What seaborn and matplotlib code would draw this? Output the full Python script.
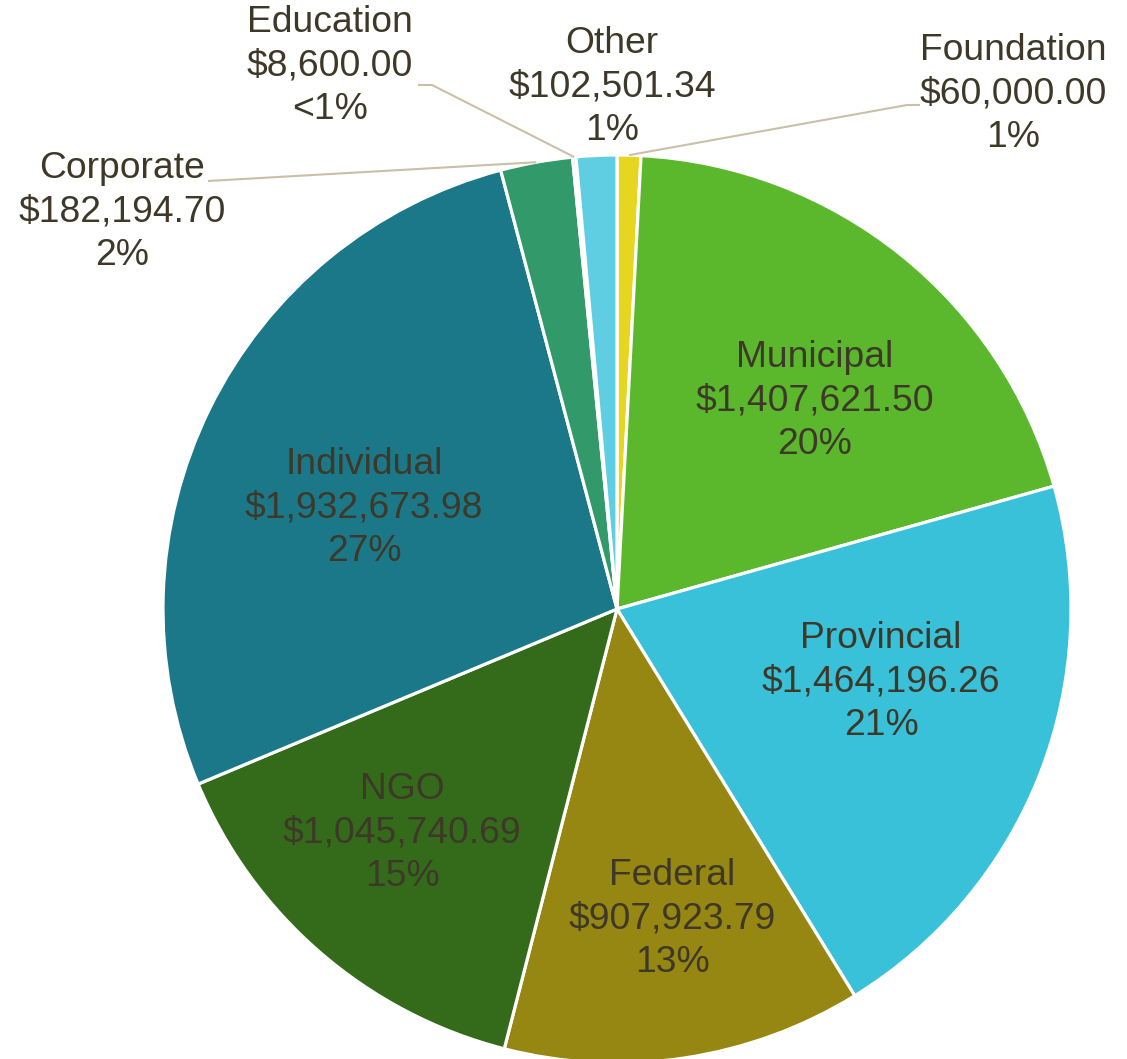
import matplotlib
matplotlib.use("Agg")
import matplotlib.pyplot as plt
import seaborn as sns
import numpy as np

sns.set_style("white")
plt.rcParams['font.family'] = ['Liberation Sans', 'DejaVu Sans']

# ---- data (clockwise from 12 o'clock) ----
categories = ["Foundation", "Municipal", "Provincial", "Federal", "NGO",
              "Individual", "Corporate", "Education", "Other"]
amounts = [60000.00, 1407621.50, 1464196.26, 907923.79, 1045740.69,
           1932673.98, 182194.70, 8600.00, 102501.34]
pct_labels = ["1%", "20%", "21%", "13%", "15%", "27%", "2%", "<1%", "1%"]
colors = ["#E6D620", "#5BB82D", "#38C1D9", "#958711", "#336B1A",
          "#1B7888", "#31996A", "#9FC9B8", "#5FCDE2"]

# ---- layout (pixel coordinates, y measured from top) ----
W, H = 1127, 1059
CX, CY, R = 617, 609, 454
label_pos = {
    "Municipal": (815, 401), "Provincial": (881, 682), "Federal": (672, 919),
    "NGO": (402, 833), "Individual": (364, 508),
    "Corporate": (122, 212), "Education": (330, 66), "Other": (612, 87),
    "Foundation": (1013, 94),
}
# leader lines: start point near the text, optional elbow
leaders = {
    "Corporate": [(208, 181)],
    "Education": [(418, 85), (432, 85)],
    "Foundation": [(920, 105), (907, 105)],
}

text_color = "#3E3829"
leader_color = "#C9C0A8"
FS = 26.8

fig = plt.figure(figsize=(W / 100, H / 100), dpi=100)
ax = fig.add_axes([0, 0, 1, 1])

def fy(y):
    return H - y

wedges, _ = ax.pie(amounts, colors=colors, startangle=90, counterclock=False,
                   center=(CX, fy(CY)), radius=R,
                   wedgeprops=dict(edgecolor="white", linewidth=2.3))
ax.set_xlim(0, W)
ax.set_ylim(0, H)
ax.set_aspect("equal")
ax.axis("off")

def fmt(v):
    return "${:,.2f}".format(v)

for cat, val, pct, w in zip(categories, amounts, pct_labels, wedges):
    x, y = label_pos[cat]
    ax.text(x, fy(y), f"{cat}\n{fmt(val)}\n{pct}", ha="center", va="center",
            fontsize=FS, color=text_color, linespacing=1.32, zorder=5)
    if cat in leaders:
        mid = np.deg2rad((w.theta1 + w.theta2) / 2)
        ex = CX + R * np.cos(mid)
        ey = fy(CY) + R * np.sin(mid)
        pts = [(px, fy(py)) for px, py in leaders[cat]] + [(ex, ey)]
        xs, ys = zip(*pts)
        ax.plot(xs, ys, color=leader_color, lw=1.5, zorder=4,
                solid_capstyle="butt")

fig.savefig("out.png", dpi=100, facecolor="white")
